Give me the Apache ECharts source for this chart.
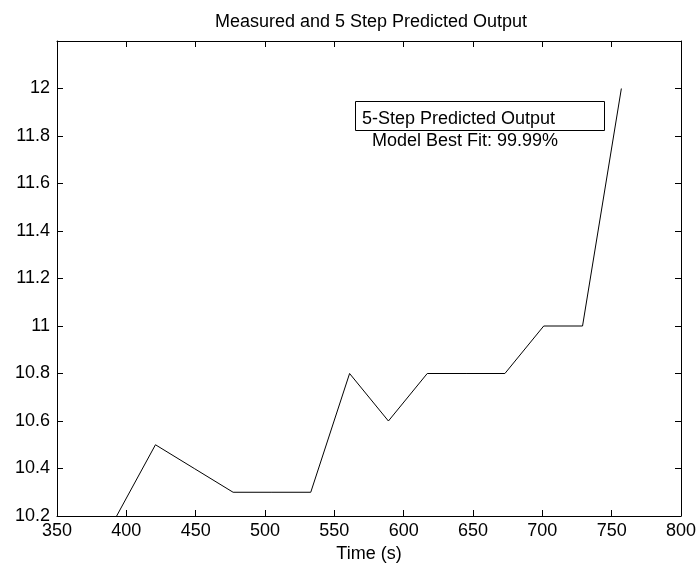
<!DOCTYPE html>
<html>
<head>
<meta charset="utf-8">
<script src="https://cdn.jsdelivr.net/npm/echarts@6/dist/echarts.min.js"></script>
<style>
  html, body { margin: 0; padding: 0; background: #fff; }
  #chart { width: 697px; height: 563px; }
</style>
</head>
<body>
<div id="chart"></div>
<script>
// data
const times = [393, 421, 449, 477, 505, 533, 561, 589, 617, 645, 673, 701, 729, 757];
const predicted = [10.2, 10.5, 10.4, 10.3, 10.3, 10.3, 10.8, 10.6, 10.8, 10.8, 10.8, 11.0, 11.0, 12.0];
const xTicks = [350, 400, 450, 500, 550, 600, 650, 700, 750, 800];
const yTicks = [10.2, 10.4, 10.6, 10.8, 11, 11.2, 11.4, 11.6, 11.8, 12];

const FONT = '"Liberation Sans", Arial, sans-serif';

const chart = echarts.init(document.getElementById('chart'));

const tickStyle = { show: true, inside: true, length: 6, lineStyle: { color: '#000', width: 1 } };
const lineStyle = { lineStyle: { color: '#000', width: 1 } };

chart.setOption({
  animation: false,
  backgroundColor: '#fff',
  title: {
    text: 'Measured and 5 Step Predicted Output',
    left: 366, top: 8, textAlign: 'center',
    textStyle: { fontFamily: FONT, fontSize: 18, fontWeight: 'normal', color: '#000' }
  },
  grid: { left: 57, right: 16, top: 41, bottom: 47, containLabel: false, outerBoundsMode: 'none' },
  xAxis: [{
    type: 'value', min: 350, max: 800, interval: 50,
    name: 'Time (s)', nameLocation: 'middle', nameGap: 28,
    nameTextStyle: { fontFamily: FONT, fontSize: 18, color: '#000' },
    axisLine: { show: true, ...lineStyle },
    axisTick: tickStyle,
    axisLabel: {
      fontFamily: FONT, fontSize: 18, color: '#000', margin: 6,
      formatter: v => xTicks.includes(v) ? String(v) : ''
    },
    splitLine: { show: false }
  }, {
    type: 'value', position: 'top', min: 350, max: 800, interval: 50,
    axisLine: { show: true, ...lineStyle },
    axisTick: tickStyle,
    axisLabel: { show: false },
    splitLine: { show: false }
  }],
  yAxis: [{
    type: 'value', min: 10.2, max: 12.2, interval: 0.2,
    axisLine: { show: true, ...lineStyle },
    axisTick: tickStyle,
    axisLabel: {
      fontFamily: FONT, fontSize: 18, color: '#000', margin: 7,
      formatter: v => yTicks.some(t => Math.abs(t - v) < 1e-6) ? String(+v.toFixed(1)) : ''
    },
    splitLine: { show: false }
  }, {
    type: 'value', position: 'right', min: 10.2, max: 12.2, interval: 0.2,
    axisLine: { show: true, ...lineStyle },
    axisTick: tickStyle,
    axisLabel: { show: false },
    splitLine: { show: false }
  }],
  graphic: [
    {
      type: 'rect', left: 355, top: 101,
      shape: { width: 249, height: 29 },
      style: { fill: '#fff', stroke: '#000', lineWidth: 1 }
    },
    {
      type: 'text', x: 362, y: 119,
      style: { text: '5-Step Predicted Output', font: '18px ' + FONT, fill: '#000', verticalAlign: 'middle' }
    },
    {
      type: 'text', x: 372, y: 141,
      style: { text: 'Model Best Fit: 99.99%', font: '18px ' + FONT, fill: '#000', verticalAlign: 'middle' }
    }
  ],
  series: [{
    type: 'line',
    data: times.map((t, i) => [t, predicted[i]]),
    showSymbol: false,
    clip: true,
    lineStyle: { color: '#000', width: 1 },
    z: 1
  }]
});
</script>
</body>
</html>
